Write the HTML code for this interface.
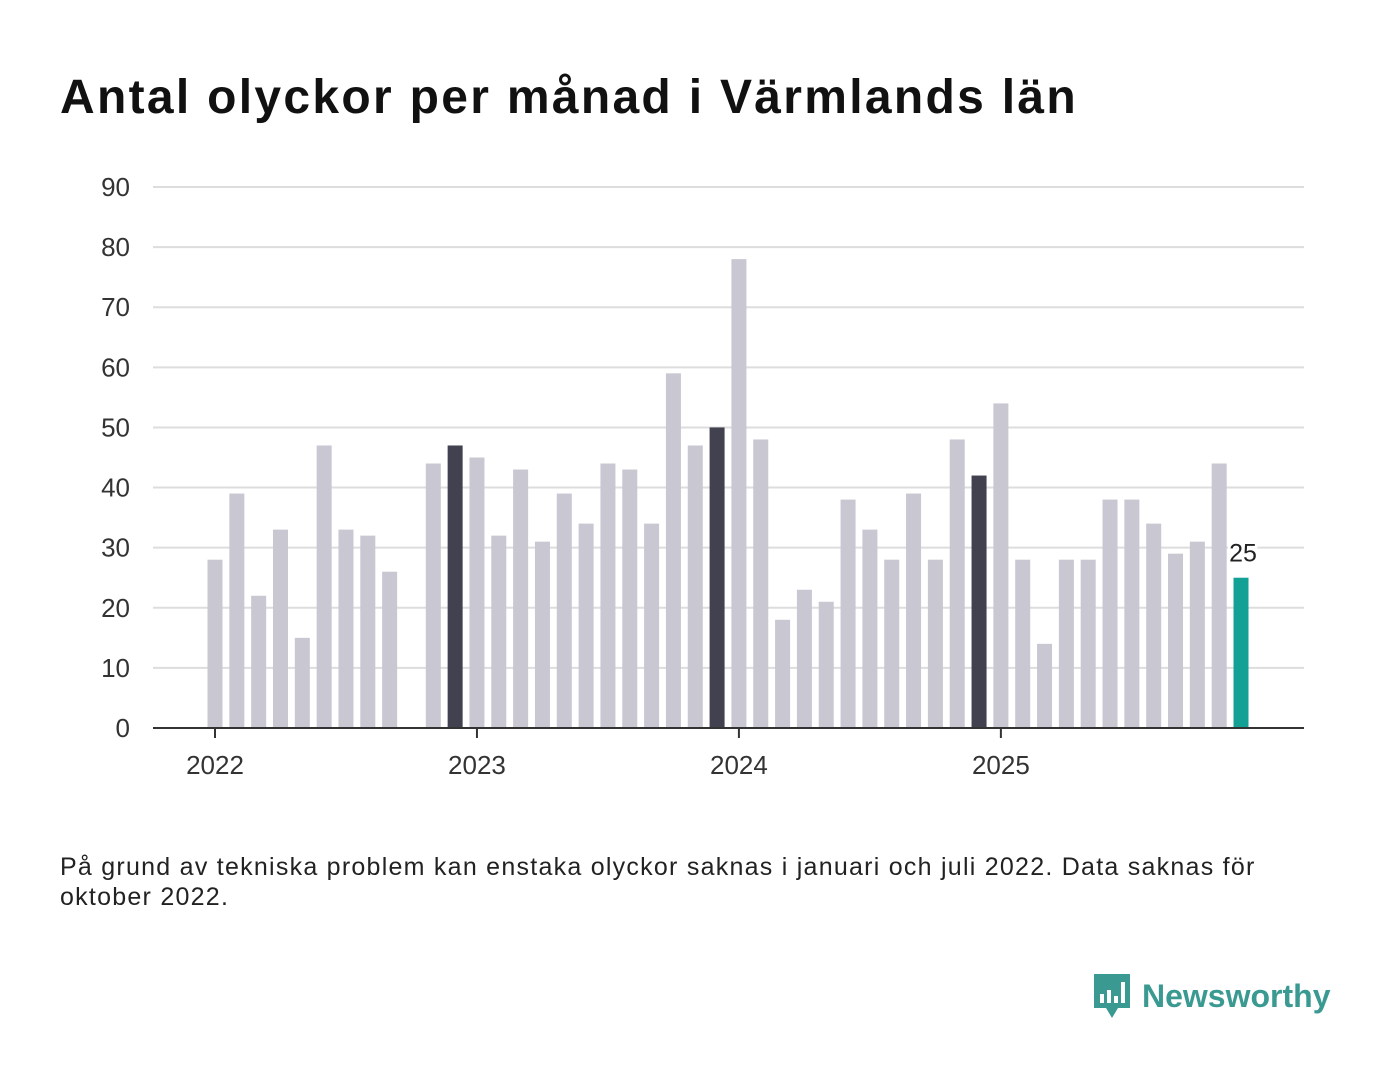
<!DOCTYPE html>
<html><head><meta charset="utf-8"><style>
body{margin:0;width:1400px;height:1080px;background:#fff;font-family:"Liberation Sans",sans-serif;overflow:hidden;position:relative}
h1{position:absolute;left:60px;top:70px;margin:0;font-size:48px;letter-spacing:2.3px;font-weight:bold;color:#111}
.note{position:absolute;left:60px;top:852px;font-size:25px;letter-spacing:1.25px;line-height:30px;color:#222;width:1240px}
.logo{position:absolute;left:1092px;top:972px;display:flex;align-items:center;gap:10px;color:#3a9a92;font-size:32px;font-weight:bold}
</style></head><body>
<h1>Antal olyckor per månad i Värmlands län</h1>
<svg id="chart" width="1400" height="820" style="position:absolute;left:0;top:0"></svg>
<div class="note">På grund av tekniska problem kan enstaka olyckor saknas i januari och juli 2022. Data saknas för oktober 2022.</div>
<div class="logo">
<svg width="40" height="48" viewBox="0 0 40 48"><path d="M2 2h36v34H26l-6 10-6-10H2z" fill="#3a9a92"/><rect x="8" y="22" width="4" height="9" fill="#fff"/><rect x="15" y="18" width="4" height="13" fill="#fff"/><rect x="22" y="24" width="4" height="7" fill="#fff"/><rect x="29" y="10" width="4" height="21" fill="#fff"/></svg>
<span>Newsworthy</span></div>
<script>
const months=[];for(let y=2022;y<=2025;y++)for(let m=1;m<=12;m++)months.push(y+'-'+m);
const values=[28,39,22,33,15,47,33,32,26,null,44,47, 45,32,43,31,39,34,44,43,34,59,47,50, 78,48,18,23,21,38,33,28,39,28,48,42, 54,28,14,28,28,38,38,34,29,31,44,25];
const yTicks=[0,10,20,30,40,50,60,70,80,90];
const xTickLabels=['2022','2023','2024','2025'];
const NS='http://www.w3.org/2000/svg',svg=document.getElementById('chart');
const x0=153,x1=1304,y0=728,yTop=187;
const yS=v=>y0-(v/90)*(y0-yTop);
const xS=i=>215+i*21.83;
function mk(t,a){const e=document.createElementNS(NS,t);for(const k in a)e.setAttribute(k,a[k]);svg.appendChild(e);return e;}
yTicks.forEach(t=>{
 if(t>0){const l=mk('line',{x1:x0,x2:x1,y1:yS(t),y2:yS(t),stroke:'#ddd','stroke-width':2});
 
 }
 const tx=mk('text',{x:130,y:yS(t)+9,'text-anchor':'end','font-size':26,fill:'#333'});tx.textContent=t;
 
 
});
values.forEach((v,i)=>{
 if(v==null)return;
 const last=i===values.length-1,dec=i%12===11;
 const r=mk('rect',{x:xS(i)-7.5,y:yS(v),width:15,height:y0-yS(v),fill:last?'#13a196':dec?'#42414f':'#c8c7d2'});
 
 
 if(last){const t=mk('text',{x:xS(i)+2,y:yS(v)-16,'text-anchor':'middle','font-size':25,fill:'#222',stroke:'#fff','stroke-width':5,'paint-order':'stroke'});t.textContent=v;
 
 }
});
const ax=mk('line',{x1:x0,x2:x1,y1:y0,y2:y0,stroke:'#333','stroke-width':2});


xTickLabels.forEach((lb,k)=>{
 const x=xS(k*12);
 const tk=mk('line',{x1:x,x2:x,y1:y0,y2:y0+10,stroke:'#333','stroke-width':2});
 
 
 const t=mk('text',{x:x,y:y0+46,'text-anchor':'middle','font-size':26,fill:'#333'});t.textContent=lb;
 
 
});
</script>
</body></html>
